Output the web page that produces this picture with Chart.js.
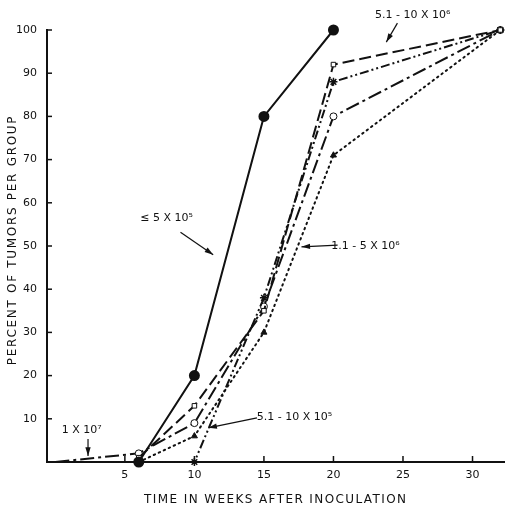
<!DOCTYPE html>
<html>
<head>
<meta charset="utf-8">
<script src="https://cdn.jsdelivr.net/npm/chart.js@4"></script>
<style>
  html, body { margin: 0; padding: 0; background: #fff; }
  #wrap { width: 511px; height: 512px; }
</style>
</head>
<body>
<div id="wrap"><canvas id="grafico"></canvas></div>
<script>
// weeks after inoculation / percent of tumors, one pair per cell-dose group
var semanasA = [6, 10, 15, 20];
var pctA = [0, 20, 80, 100];              // <= 5 x 10^5
var semanasB = [6, 10, 15, 20, 32];
var pctB = [1, 13, 35, 92, 100];          // 5.1 - 10 x 10^6
var semanasC = [0, 10, 15, 20, 32];
var pctC = [0, 0, 38, 88, 100];           // 5.1 - 10 x 10^5
var semanasD = [0, 6, 10, 15, 20, 32];
var pctD = [0, 2, 9, 36, 80, 100];        // 1 x 10^7
var semanasE = [6, 10, 15, 20, 32];
var pctE = [0, 6, 30, 71, 100];           // 1.1 - 5 x 10^6

var ticksX = [5, 10, 15, 20, 25, 30];
var ticksY = [10, 20, 30, 40, 50, 60, 70, 80, 90, 100];

// label text, label anchor (week, pct), arrow from, arrow to
var notas = [
  { txt: "\u2264 5 X 10\u2075", at: [8.0, 56.5], de: [9.0, 53.2], para: [11.35, 48] },
  { txt: "5.1 - 10 X 10\u2076", at: [25.7, 103.5], de: [24.6, 101.6], para: [23.8, 97.2] },
  { txt: "1.1 - 5 X 10\u2076", at: [22.3, 50], de: [20.3, 50.2], para: [17.7, 49.8] },
  { txt: "5.1 - 10 X 10\u2075", at: [17.2, 10.4], de: [14.5, 10.2], para: [11.0, 7.9] },
  { txt: "1 X 10\u2077", at: [1.9, 7.3], de: [2.35, 5.3], para: [2.35, 1.4] }
];

function pontos(xs, ys) {
  return xs.map(function (x, i) { return { x: x, y: ys[i] }; });
}

// no marker at the origin, the line just leaves the axis there
function raio(r) {
  return function (c) { return c.raw && c.raw.x === 0 ? 0 : r; };
}

var fonte = "'DejaVu Sans', sans-serif";
var preto = "#111";

var ticksInternos = {
  id: "ticksInternos",
  afterDraw: function (chart) {
    var ctx = chart.ctx, sx = chart.scales.x, sy = chart.scales.y;
    var area = chart.chartArea;
    ctx.save();
    ctx.strokeStyle = preto;
    ctx.lineWidth = 1.5;
    ticksY.forEach(function (v) {
      var py = sy.getPixelForValue(v);
      ctx.beginPath();
      ctx.moveTo(area.left, py);
      ctx.lineTo(area.left + 5, py);
      ctx.stroke();
    });
    ticksX.forEach(function (v) {
      var px = sx.getPixelForValue(v);
      ctx.beginPath();
      ctx.moveTo(px, area.bottom);
      ctx.lineTo(px, area.bottom - 6);
      ctx.stroke();
    });

    // axis titles, spaced out like the original lettering
    ctx.fillStyle = preto;
    ctx.font = "12px " + fonte;
    ctx.letterSpacing = "1.4px";
    ctx.textAlign = "center";
    ctx.textBaseline = "middle";
    ctx.fillText("TIME IN WEEKS AFTER INOCULATION", (area.left + area.right) / 2, 500);
    ctx.translate(13, (area.top + area.bottom) / 2 - 6);
    ctx.rotate(-Math.PI / 2);
    ctx.letterSpacing = "1.7px";
    ctx.fillText("PERCENT OF TUMORS PER GROUP", 0, 0);
    ctx.restore();
  }
};

var anotacoes = {
  id: "anotacoes",
  afterDatasetsDraw: function (chart) {
    var ctx = chart.ctx, sx = chart.scales.x, sy = chart.scales.y;
    ctx.save();
    ctx.fillStyle = preto;
    ctx.strokeStyle = preto;
    ctx.lineWidth = 1.2;
    ctx.font = "11px " + fonte;
    ctx.textAlign = "center";
    ctx.textBaseline = "middle";
    notas.forEach(function (n) {
      ctx.fillText(n.txt, sx.getPixelForValue(n.at[0]), sy.getPixelForValue(n.at[1]));
      var x1 = sx.getPixelForValue(n.de[0]), y1 = sy.getPixelForValue(n.de[1]);
      var x2 = sx.getPixelForValue(n.para[0]), y2 = sy.getPixelForValue(n.para[1]);
      ctx.beginPath();
      ctx.moveTo(x1, y1);
      ctx.lineTo(x2, y2);
      ctx.stroke();
      var ang = Math.atan2(y2 - y1, x2 - x1);
      ctx.beginPath();
      ctx.moveTo(x2, y2);
      ctx.lineTo(x2 - 9 * Math.cos(ang - 0.3), y2 - 9 * Math.sin(ang - 0.3));
      ctx.lineTo(x2 - 9 * Math.cos(ang + 0.3), y2 - 9 * Math.sin(ang + 0.3));
      ctx.closePath();
      ctx.fill();
    });
    ctx.restore();
  }
};

document.addEventListener("DOMContentLoaded", function () {
  new Chart(document.getElementById("grafico"), {
    type: 'line',
    data: {
      datasets: [
        {
          label: "<= 5 x 10^5",
          data: pontos(semanasA, pctA),
          borderColor: preto, backgroundColor: preto,
          borderWidth: 2, pointRadius: 4.5, pointStyle: 'circle',
          pointBackgroundColor: preto, pointBorderColor: preto
        },
        {
          label: "5.1 - 10 x 10^6",
          data: pontos(semanasB, pctB),
          borderColor: preto, borderWidth: 2, borderDash: [12, 5],
          pointStyle: 'rect', pointRadius: 3.2, pointBorderWidth: 1,
          pointBackgroundColor: '#fff', pointBorderColor: preto
        },
        {
          label: "5.1 - 10 x 10^5",
          data: pontos(semanasC, pctC),
          borderColor: preto, borderWidth: 2, borderDash: [9, 3, 2, 3, 2, 3],
          pointStyle: 'star', pointRadius: raio(4), pointBorderWidth: 1.5,
          pointBackgroundColor: preto, pointBorderColor: preto
        },
        {
          label: "1 x 10^7",
          data: pontos(semanasD, pctD),
          borderColor: preto, borderWidth: 2, borderDash: [14, 4, 3, 4],
          pointStyle: 'circle', pointRadius: raio(3.5), pointBorderWidth: 1,
          pointBackgroundColor: '#fff', pointBorderColor: preto
        },
        {
          label: "1.1 - 5 x 10^6",
          data: pontos(semanasE, pctE),
          borderColor: preto, borderWidth: 2, borderDash: [1.5, 4], borderCapStyle: 'round',
          pointStyle: 'triangle', pointRadius: 3.5, pointBorderWidth: 1,
          pointBackgroundColor: preto, pointBorderColor: preto
        }
      ]
    },
    options: {
      responsive: true,
      maintainAspectRatio: false,
      animation: false,
      clip: false,
      layout: { padding: { top: 30, right: 1, left: 0, bottom: 0 } },
      plugins: { legend: { display: false }, tooltip: { enabled: false } },
      scales: {
        x: {
          type: 'linear', min: -0.6, max: 32.3,
          afterBuildTicks: function (s) { s.ticks = ticksX.map(function (v) { return { value: v }; }); },
          afterFit: function (s) { s.height = 50; },
          grid: { display: false, drawTicks: false, tickLength: 0 },
          border: { color: preto, width: 2 },
          ticks: { color: preto, padding: 7, maxRotation: 0, font: { family: fonte, size: 11 } }
        },
        y: {
          min: 0, max: 100,
          afterBuildTicks: function (s) { s.ticks = ticksY.map(function (v) { return { value: v }; }); },
          afterFit: function (s) { s.width = 47; },
          grid: { display: false, drawTicks: false, tickLength: 0 },
          border: { color: preto, width: 2 },
          ticks: { color: preto, padding: 10, font: { family: fonte, size: 11 } }
        }
      }
    },
    plugins: [ticksInternos, anotacoes]
  });
});
</script>
</body>
</html>
